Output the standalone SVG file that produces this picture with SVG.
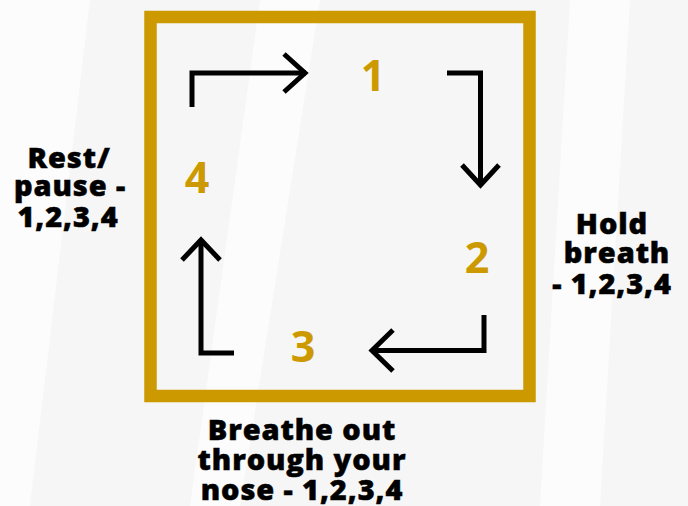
<svg xmlns="http://www.w3.org/2000/svg" width="688" height="506" viewBox="0 0 688 506">
<defs>
<style>
.bg{fill:#f6f6f6}
.streak{fill:#fcfcfc}
.box{fill:none;stroke:#cc9a00;stroke-width:12.5}
.arr{fill:none;stroke:#000;stroke-width:5}
.num{font-family:"Open Sans","Noto Sans",sans-serif;font-weight:700;font-size:43px;fill:#cc9a00;text-anchor:middle}
.lbl{font-family:"Open Sans","Noto Sans",sans-serif;font-weight:800;font-size:29px;letter-spacing:0.9px;fill:#000;stroke:#000;stroke-width:0.5;text-anchor:middle}
</style>
</defs>
<rect class="bg" x="0" y="0" width="688" height="506"/>
<polygon class="streak" points="0,0 90,0 30,506 0,506"/>
<polygon class="streak" points="260,0 320,0 240,506 190,506"/>
<polygon class="streak" points="570,0 630,0 600,506 540,506"/>
<g id="frame"><rect class="box" x="150.5" y="17" width="379" height="379"/></g>
<g id="connectors">
<path class="arr" d="M192,107 V73 H306"/>
<path class="arr" d="M284,54 L305,73 L284,92"/>
<path class="arr" d="M447,73 H480.5 V185"/>
<path class="arr" d="M462,165 L480.5,185 L499,165"/>
<path class="arr" d="M484,315 V350.5 H372"/>
<path class="arr" d="M393,330 L372,350.5 L393,371"/>
<path class="arr" d="M234,353 H201 V240"/>
<path class="arr" d="M182,260 L201,240 L220,260"/>
</g>
<g id="n1"><text class="num" x="373" y="91">1</text></g>
<g id="n2"><text class="num" x="477" y="273">2</text></g>
<g id="n3"><text class="num" x="303" y="362">3</text></g>
<g id="n4"><text class="num" x="197" y="193">4</text></g>
<g id="label-left"><text class="lbl"><tspan x="69" y="168">Rest/</tspan><tspan x="70" y="196">pause -</tspan><tspan x="68" y="227">1,2,3,4</tspan></text></g>
<g id="label-right"><text class="lbl"><tspan x="612" y="234">Hold</tspan><tspan x="617" y="263">breath</tspan><tspan x="612" y="294">- 1,2,3,4</tspan></text></g>
<g id="label-bottom"><text class="lbl"><tspan x="302" y="440">Breathe out</tspan><tspan x="302" y="470">through your</tspan><tspan x="302" y="500">nose - 1,2,3,4</tspan></text></g>
</svg>
